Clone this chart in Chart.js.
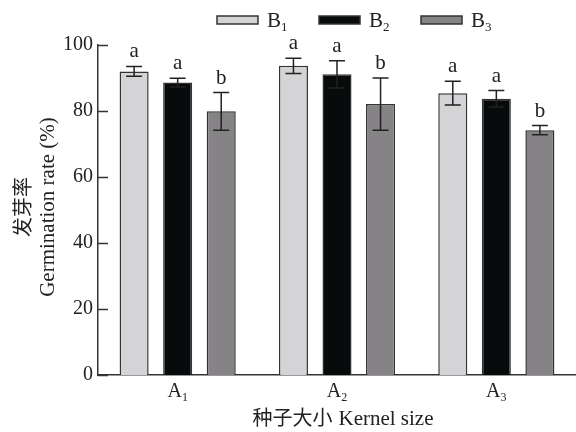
<!DOCTYPE html>
<html>
<head>
<meta charset="utf-8">
<script src="https://cdn.jsdelivr.net/npm/chart.js@4.4.1/dist/chart.umd.min.js"></script>
<style>
  body { margin: 0; background: #fff; }
  canvas { display: block; }
</style>
</head>
<body>
<canvas id="germChart" width="576" height="432"></canvas>
<script>
// categories (letter + subscript)
const categories = ["A1", "A2", "A3"];
const seriesNames = ["B1", "B2", "B3"];

// germination rate (%)
const b1Values = [92.0, 93.7, 85.4];
const b2Values = [88.6, 91.1, 83.7];
const b3Values = [79.9, 82.1, 74.2];

// error bars (+/-)
const b1Errors = [1.5, 2.3, 3.6];
const b2Errors = [1.3, 4.1, 2.5];
const b3Errors = [5.7, 7.9, 1.4];

// significance letters
const b1Letters = ["a", "a", "a"];
const b2Letters = ["a", "a", "a"];
const b3Letters = ["b", "b", "b"];

const yTicks = [0, 20, 40, 60, 80, 100];

const serif = '"Liberation Serif", "Times New Roman", serif';
const cjk = '"Noto Sans CJK SC", sans-serif';
const ink = "#222";
const barColors = ["#d4d4d6", "#080b0c", "#858385"];

const errors = [b1Errors, b2Errors, b3Errors];
const letters = [b1Letters, b2Letters, b3Letters];

// draws "B" + small "1" style label
function drawSub(ctx, label, x, y, size, align) {
  let base = label.slice(0, 1);
  let sub = label.slice(1);
  ctx.textAlign = "left";
  ctx.textBaseline = "alphabetic";
  ctx.font = `${size}px ${serif}`;
  let wb = ctx.measureText(base).width;
  ctx.font = `${Math.round(size * 0.62)}px ${serif}`;
  let ws = ctx.measureText(sub).width;
  let x0 = align === "center" ? x - (wb + ws) / 2 : x;
  ctx.font = `${size}px ${serif}`;
  ctx.fillText(base, x0, y);
  ctx.font = `${Math.round(size * 0.62)}px ${serif}`;
  ctx.fillText(sub, x0 + wb, y + size * 0.2);
}

const overlay = {
  id: "overlay",
  afterDatasetsDraw(chart) {
    const { ctx } = chart;
    const y = chart.scales.y;
    ctx.save();
    chart.data.datasets.forEach((ds, di) => {
      const meta = chart.getDatasetMeta(di);
      meta.data.forEach((bar, i) => {
        let v = ds.data[i];
        let e = errors[di][i];
        let yt = y.getPixelForValue(v + e);
        let yb = y.getPixelForValue(v - e);
        let cap = 8;
        ctx.strokeStyle = ink;
        ctx.lineWidth = 1.5;
        ctx.beginPath();
        ctx.moveTo(bar.x, yt);
        ctx.lineTo(bar.x, yb);
        ctx.moveTo(bar.x - cap, yt);
        ctx.lineTo(bar.x + cap, yt);
        ctx.moveTo(bar.x - cap, yb);
        ctx.lineTo(bar.x + cap, yb);
        ctx.stroke();

        ctx.fillStyle = ink;
        ctx.font = `21px ${serif}`;
        ctx.textAlign = "center";
        ctx.textBaseline = "alphabetic";
        ctx.fillText(letters[di][i], bar.x, yt - 9);
      });
    });
    ctx.restore();
  },
  afterDraw(chart) {
    const { ctx, chartArea } = chart;
    const x = chart.scales.x;
    const y = chart.scales.y;
    ctx.save();
    ctx.fillStyle = ink;
    ctx.strokeStyle = "#333";

    // inward tick marks on y axis
    ctx.lineWidth = 1.5;
    y.ticks.forEach((t) => {
      let py = Math.round(y.getPixelForValue(t.value)) + 0.5;
      ctx.beginPath();
      ctx.moveTo(chartArea.left, py);
      ctx.lineTo(chartArea.left + 10, py);
      ctx.stroke();
    });

    // category labels
    categories.forEach((c, i) => {
      drawSub(ctx, c, x.getPixelForValue(i), 397, 20, "center");
    });

    // legend
    seriesNames.forEach((name, i) => {
      let bx = 217 + i * 102;
      ctx.fillStyle = barColors[i];
      ctx.fillRect(bx, 16, 41, 8);
      ctx.lineWidth = 1.5;
      ctx.strokeStyle = "#333";
      ctx.strokeRect(bx, 16, 41, 8);
      ctx.fillStyle = ink;
      drawSub(ctx, name, bx + 50, 27, 21, "left");
    });

    // x axis title
    let zh = "种子大小";
    let en = "Kernel size";
    ctx.font = `20px ${cjk}`;
    let wz = ctx.measureText(zh).width;
    ctx.font = `21px ${serif}`;
    let we = ctx.measureText(en).width;
    let gap = 6;
    let tx = 343 - (wz + gap + we) / 2;
    ctx.textAlign = "left";
    ctx.textBaseline = "alphabetic";
    ctx.font = `20px ${cjk}`;
    ctx.fillText(zh, tx, 425);
    ctx.font = `21px ${serif}`;
    ctx.fillText(en, tx + wz + gap, 425);

    // y axis title (two lines)
    ctx.translate(0, 207);
    ctx.rotate(-Math.PI / 2);
    ctx.textAlign = "center";
    ctx.textBaseline = "middle";
    ctx.font = `20px ${cjk}`;
    ctx.fillText("发芽率", 0, 22);
    ctx.font = `21px ${serif}`;
    ctx.fillText("Germination rate (%)", 0, 48);
    ctx.restore();
  },
};

const config = {
  type: "bar",
  data: {
    labels: categories,
    datasets: [
      { label: seriesNames[0], data: b1Values, backgroundColor: barColors[0] },
      { label: seriesNames[1], data: b2Values, backgroundColor: barColors[1] },
      { label: seriesNames[2], data: b3Values, backgroundColor: barColors[2] },
    ],
  },
  options: {
    responsive: false,
    devicePixelRatio: 1,
    animation: false,
    layout: { padding: { top: 45, right: 0, left: 0, bottom: 0 } },
    datasets: {
      bar: {
        categoryPercentage: 0.82,
        barPercentage: 0.667,
        borderColor: "#333",
        borderWidth: 1.5,
      },
    },
    plugins: {
      legend: { display: false },
      tooltip: { enabled: false },
    },
    scales: {
      x: {
        grid: { display: false },
        border: { display: true, color: "#333", width: 1.5 },
        ticks: { display: false },
        afterFit: (s) => {
          s.height = 57;
        },
      },
      y: {
        min: 0,
        max: 100,
        afterBuildTicks: (s) => {
          s.ticks = yTicks.map((v) => ({ value: v }));
        },
        grid: { display: false, drawTicks: false },
        border: { display: true, color: "#333", width: 1.5 },
        ticks: {
          padding: 5,
          color: ink,
          font: { family: serif, size: 20 },
        },
        afterFit: (s) => {
          s.width = 98;
        },
      },
    },
  },
  plugins: [overlay],
};

const myChart = new Chart(document.getElementById("germChart"), config);
</script>
</body>
</html>
